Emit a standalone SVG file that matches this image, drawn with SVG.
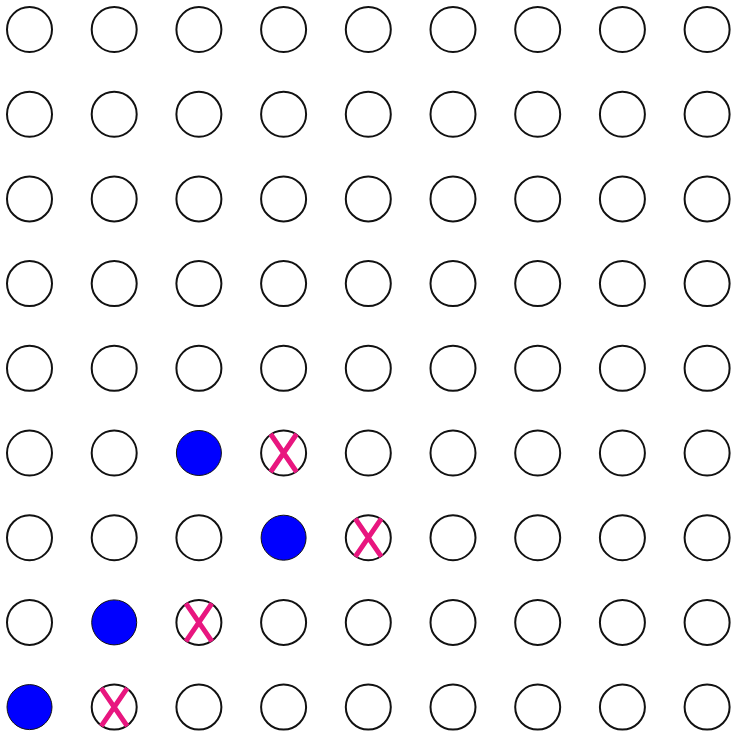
<svg xmlns="http://www.w3.org/2000/svg" width="731" height="734" viewBox="0 0 731 734">
<defs>
<style>
.c{fill:#fff;stroke:#111;stroke-width:2}
.b{fill:#0000ff;stroke:#111;stroke-width:1}
.x{stroke:#e8167f;stroke-width:5;stroke-linecap:butt;fill:none}
</style>
<circle id="cc" class="c" r="22.5"/>
</defs>
<rect width="731" height="734" fill="#fff"/>
<g id="grid">
<g transform="translate(29.5,29.5)">
<use href="#cc" x="0" y="0"/><use href="#cc" x="84.7" y="0"/><use href="#cc" x="169.4" y="0"/><use href="#cc" x="254.1" y="0"/><use href="#cc" x="338.8" y="0"/><use href="#cc" x="423.5" y="0"/><use href="#cc" x="508.2" y="0"/><use href="#cc" x="592.9" y="0"/><use href="#cc" x="677.6" y="0"/>
<use href="#cc" x="0" y="84.7"/><use href="#cc" x="84.7" y="84.7"/><use href="#cc" x="169.4" y="84.7"/><use href="#cc" x="254.1" y="84.7"/><use href="#cc" x="338.8" y="84.7"/><use href="#cc" x="423.5" y="84.7"/><use href="#cc" x="508.2" y="84.7"/><use href="#cc" x="592.9" y="84.7"/><use href="#cc" x="677.6" y="84.7"/>
<use href="#cc" x="0" y="169.4"/><use href="#cc" x="84.7" y="169.4"/><use href="#cc" x="169.4" y="169.4"/><use href="#cc" x="254.1" y="169.4"/><use href="#cc" x="338.8" y="169.4"/><use href="#cc" x="423.5" y="169.4"/><use href="#cc" x="508.2" y="169.4"/><use href="#cc" x="592.9" y="169.4"/><use href="#cc" x="677.6" y="169.4"/>
<use href="#cc" x="0" y="254.1"/><use href="#cc" x="84.7" y="254.1"/><use href="#cc" x="169.4" y="254.1"/><use href="#cc" x="254.1" y="254.1"/><use href="#cc" x="338.8" y="254.1"/><use href="#cc" x="423.5" y="254.1"/><use href="#cc" x="508.2" y="254.1"/><use href="#cc" x="592.9" y="254.1"/><use href="#cc" x="677.6" y="254.1"/>
<use href="#cc" x="0" y="338.8"/><use href="#cc" x="84.7" y="338.8"/><use href="#cc" x="169.4" y="338.8"/><use href="#cc" x="254.1" y="338.8"/><use href="#cc" x="338.8" y="338.8"/><use href="#cc" x="423.5" y="338.8"/><use href="#cc" x="508.2" y="338.8"/><use href="#cc" x="592.9" y="338.8"/><use href="#cc" x="677.6" y="338.8"/>
<use href="#cc" x="0" y="423.5"/><use href="#cc" x="84.7" y="423.5"/><use href="#cc" x="254.1" y="423.5"/><use href="#cc" x="338.8" y="423.5"/><use href="#cc" x="423.5" y="423.5"/><use href="#cc" x="508.2" y="423.5"/><use href="#cc" x="592.9" y="423.5"/><use href="#cc" x="677.6" y="423.5"/>
<use href="#cc" x="0" y="508.2"/><use href="#cc" x="84.7" y="508.2"/><use href="#cc" x="169.4" y="508.2"/><use href="#cc" x="338.8" y="508.2"/><use href="#cc" x="423.5" y="508.2"/><use href="#cc" x="508.2" y="508.2"/><use href="#cc" x="592.9" y="508.2"/><use href="#cc" x="677.6" y="508.2"/>
<use href="#cc" x="0" y="592.9"/><use href="#cc" x="169.4" y="592.9"/><use href="#cc" x="254.1" y="592.9"/><use href="#cc" x="338.8" y="592.9"/><use href="#cc" x="423.5" y="592.9"/><use href="#cc" x="508.2" y="592.9"/><use href="#cc" x="592.9" y="592.9"/><use href="#cc" x="677.6" y="592.9"/>
<use href="#cc" x="84.7" y="677.6"/><use href="#cc" x="169.4" y="677.6"/><use href="#cc" x="254.1" y="677.6"/><use href="#cc" x="338.8" y="677.6"/><use href="#cc" x="423.5" y="677.6"/><use href="#cc" x="508.2" y="677.6"/><use href="#cc" x="592.9" y="677.6"/><use href="#cc" x="677.6" y="677.6"/>
</g>
</g>
<g id="filled">
<circle class="b" cx="198.9" cy="453" r="22.5"/>
<circle class="b" cx="283.6" cy="537.7" r="22.5"/>
<circle class="b" cx="114.2" cy="622.4" r="22.5"/>
<circle class="b" cx="29.5" cy="707.1" r="22.5"/>
</g>
<g id="crosses">
<path class="x" d="M270.6,434 L296.6,472 M296.6,434 L270.6,472"/>
<path class="x" d="M355.3,518.7 L381.3,556.7 M381.3,518.7 L355.3,556.7"/>
<path class="x" d="M185.9,603.4 L211.9,641.4 M211.9,603.4 L185.9,641.4"/>
<path class="x" d="M101.2,688.1 L127.2,726.1 M127.2,688.1 L101.2,726.1"/>
</g>
</svg>
